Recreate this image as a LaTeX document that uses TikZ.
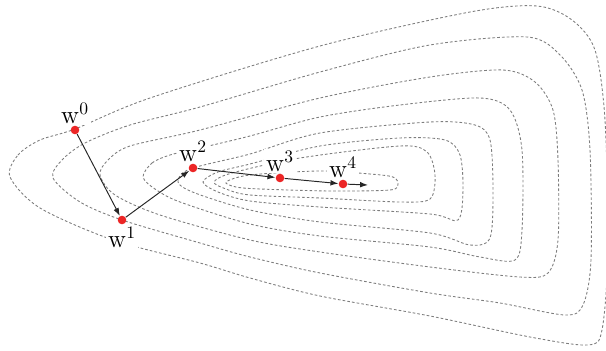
\documentclass[tikz,border=0pt]{standalone}
\usetikzlibrary{arrows.meta}
\definecolor{dotred}{RGB}{236,38,38}
\definecolor{levelgray}{RGB}{125,125,125}
\begin{document}
\begin{tikzpicture}[
	x=0.02cm, y=-0.02cm,
	level/.style={ levelgray, line width=0.5pt, dash pattern=on 1.5pt off 1.2pt },
	iterate/.style={ circle, fill=dotred, inner sep=0pt, minimum size=4.9pt },
	move/.style={ -{Latex[length=4.5pt,width=3.2pt]}, line width=0.55pt, black!85 },
	every label/.style={ fill=white, inner sep=1pt, font=\fontsize{14}{16}\selectfont }
]
\useasboundingbox (0,0) rectangle (606,351);
\clip (0,0) rectangle (606,351);

\draw[level] plot[smooth cycle] coordinates { (10,177) (18,155) (40,140) (75,129) (150,98) (320,46) (470,12) (537,6) (572,20) (595,50) (605,120) (608,250) (602,330) (588,345) (530,337) (430,316) (320,296) (250,278) (200,263) (113,240) (40,208) };
\draw[level] plot[smooth cycle] coordinates { (53,178) (62,160) (85,143) (130,125) (200,107) (320,72) (430,45) (527,37) (560,55) (582,90) (590,150) (591,260) (583,305) (565,315) (500,303) (430,293) (320,273) (250,257) (200,243) (122,220) (80,202) };
\draw[level] plot[smooth cycle] coordinates { (100,175) (108,160) (130,146) (200,130) (320,98) (430,77) (503,70) (535,82) (553,110) (558,160) (558,240) (548,273) (520,277) (430,267) (320,252) (250,240) (160,215) (115,195) };
\draw[level] plot[smooth cycle] coordinates { (143,177) (152,163) (170,155) (200,148) (250,136) (320,117) (400,105) (480,98) (510,110) (522,150) (522,230) (515,260) (480,257) (430,247) (320,236) (250,224) (180,202) (155,189) };
\draw[level] plot[smooth cycle] coordinates { (178,182) (190,169) (250,154) (320,133) (430,122) (475,125) (490,140) (493,190) (490,238) (470,245) (430,233) (320,222) (250,210) (195,193) };
\draw[level] plot[smooth cycle] coordinates { (203,182) (218,172) (250,164) (320,146) (400,138) (445,140) (460,155) (463,190) (458,220) (430,214) (320,207) (250,201) (218,192) };
\draw[level] plot[smooth cycle] coordinates { (214,182) (232,173) (300,158) (400,146) (427,152) (435,175) (430,199) (400,202) (320,198) (250,195) (226,189) };
\draw[level] plot[smooth cycle] coordinates { (226,182) (250,175) (320,171) (370,174) (393,177) (398,184) (390,190) (330,191) (260,189) (236,187) };

\node at (75,130) (w0) [iterate,label=above:{$\mathrm{w}^0$}] {};
\node at (122,220) (w1) [iterate,label=below:{$\mathrm{w}^1$}] {};
\node at (193,168) (w2) [iterate,label=above:{$\mathrm{w}^2$}] {};
\node at (280,178) (w3) [iterate,label=above:{$\mathrm{w}^3$}] {};
\node at (343,184) (w4) [iterate,label=above:{$\mathrm{w}^4$}] {};
\coordinate (w5) at (368,185);

\draw[move] (w0) -- (w1);
\draw[move] (w1) -- (w2);
\draw[move] (w2) -- (w3);
\draw[move] (w3) -- (w4);
\draw[move] (w4) -- (w5);

\end{tikzpicture}
\end{document}
